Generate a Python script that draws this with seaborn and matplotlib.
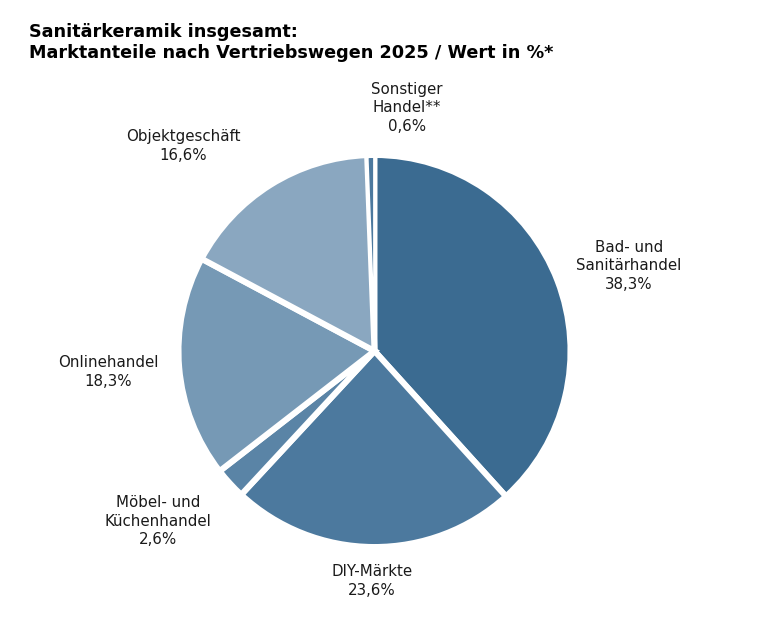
import matplotlib
matplotlib.use("Agg")
import matplotlib.pyplot as plt
import seaborn as sns

# Marktanteile nach Vertriebswegen 2025, Wert in %
kanaele = ["Bad- und\nSanitärhandel", "DIY-Märkte", "Möbel- und\nKüchenhandel",
           "Onlinehandel", "Objektgeschäft", "Sonstiger\nHandel**"]
anteile = [38.3, 23.6, 2.6, 18.3, 16.6, 0.6]
farben = ["#3b6b91", "#4c799e", "#5a84a6", "#7699b5", "#8aa7c0", "#4c799e"]

# label centres in pixels (x from left, y from top)
label_px = [(629, 266), (372, 581), (158, 521), (108, 372), (183, 146), (407, 108)]

sns.set_theme(style="white")
plt.rcParams['font.family'] = ['DejaVu Sans']

W, H = 768, 619
cx, cy, r = 374.5, 351, 196

fig = plt.figure(figsize=(W / 100, H / 100), dpi=100)
ax = fig.add_axes([0, 0, 1, 1])

wedges, _ = ax.pie(anteile, colors=farben, startangle=90, counterclock=False, radius=1,
                   wedgeprops=dict(edgecolor="white", linewidth=4.3))
# the tiny slice would disappear under a thick border -> thinner border, pulled in
wedges[-1].set_linewidth(2.0)
wedges[-1].set_radius(1 - 1.6 / r)
ax.set_xlim(-cx / r, (W - cx) / r)
ax.set_ylim(-(H - cy) / r, cy / r)
ax.set_aspect("equal")
ax.axis("off")

for name, wert, (px, py) in zip(kanaele, anteile, label_px):
    txt = f"{name}\n{wert:.1f}%".replace(".", ",")
    ax.text((px - cx) / r, (cy - py) / r, txt, ha="center", va="center",
            fontsize=10.8, color="#1a1a1a", linespacing=1.3)

fig.text(29 / W, 1 - 42.5 / H,
         "Sanitärkeramik insgesamt:\nMarktanteile nach Vertriebswegen 2025 / Wert in %*",
         ha="left", va="center", fontsize=12.7, fontweight="bold", color="black",
         linespacing=1.15)

fig.savefig("out.png", dpi=100, facecolor="white")
